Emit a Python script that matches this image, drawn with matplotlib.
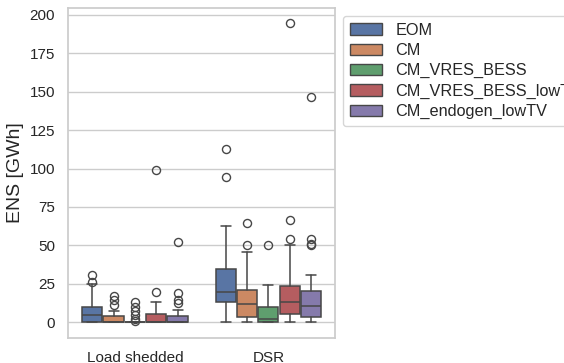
import matplotlib
matplotlib.use("Agg")
import matplotlib.pyplot as plt
import seaborn as sns

sns.set_theme(style="whitegrid")
plt.rcParams["font.family"] = ["Liberation Sans", "DejaVu Sans"]

groups = ["Load shedded", "DSR"]
scenarios = ["EOM", "CM", "CM_VRES_BESS", "CM_VRES_BESS_lowTV", "CM_endogen_lowTV"]

# box stats: (whislo, q1, med, q3, whishi)
load_shed_stats = [
    (0, 0, 4.9, 9.6, 24.6),
    (0, 0, 0, 3.8, 7.5),
    (0, 0, 0, 0, 0),
    (0, 0, 0, 5.5, 13.1),
    (0, 0, 0, 3.8, 8.1),
]
load_shed_fliers = [
    [26.0, 30.4],
    [11.4, 14.2, 17.2],
    [0.5, 2.3, 4.4, 7.0, 9.9, 13.1],
    [19.4, 99.2],
    [12.5, 14.6, 19.0, 52.4],
]
dsr_stats = [
    (0, 12.9, 19.6, 34.6, 62.6),
    (0, 3.4, 11.8, 20.7, 45.6),
    (0, 0, 2.1, 9.9, 23.9),
    (0, 5.5, 13.1, 23.3, 50.0),
    (0, 3.1, 10.7, 20.3, 30.9),
]
dsr_fliers = [
    [94.2, 112.6],
    [50.0, 64.7],
    [50.0],
    [53.9, 66.2, 194.6],
    [49.9, 50.6, 54.1, 146.5],
]

palette = sns.color_palette("deep", 5)
colors = [sns.desaturate(c, 0.75) for c in palette]
line_col = "#474747"

fig = plt.figure(figsize=(5.64, 3.63), dpi=100)
ax = fig.add_axes([0.121, 0.069, 0.473, 0.909])

all_stats = [load_shed_stats, dsr_stats]
all_fliers = [load_shed_fliers, dsr_fliers]
n = len(scenarios)
w = 0.8 / n
for gi in range(len(groups)):
    for si in range(n):
        lo, q1, med, q3, hi = all_stats[gi][si]
        st = [{"whislo": lo, "q1": q1, "med": med, "q3": q3, "whishi": hi,
               "fliers": all_fliers[gi][si]}]
        pos = gi - 0.4 + w * (si + 0.5)
        ax.bxp(st, positions=[pos], widths=w * 0.95, patch_artist=True,
               manage_ticks=False,
               boxprops=dict(facecolor=colors[si], edgecolor=line_col, linewidth=1.1),
               medianprops=dict(color=line_col, linewidth=1.1),
               whiskerprops=dict(color=line_col, linewidth=1.1),
               capprops=dict(color=line_col, linewidth=1.1),
               flierprops=dict(marker="o", markerfacecolor="none",
                               markeredgecolor=line_col, markersize=5.8,
                               markeredgewidth=1.0))

ax.set_xlim(-0.5, 1.5)
ax.set_ylim(-10.3, 204.5)
ax.set_xticks(range(len(groups)))
ax.set_xticklabels(groups, fontsize=11)
ax.set_yticks(range(0, 201, 25))
ax.tick_params(axis="y", labelsize=11)
ax.grid(axis="x", visible=False)
ax.set_ylabel("ENS [GWh]", fontsize=14)

handles = [plt.Rectangle((0, 0), 1, 1, facecolor=colors[i], edgecolor=line_col)
           for i in range(n)]
ax.legend(handles, scenarios, loc="upper left", bbox_to_anchor=(1, 1),
          fontsize=11.7, labelspacing=0.33)

fig.savefig("out.png", dpi=100)
